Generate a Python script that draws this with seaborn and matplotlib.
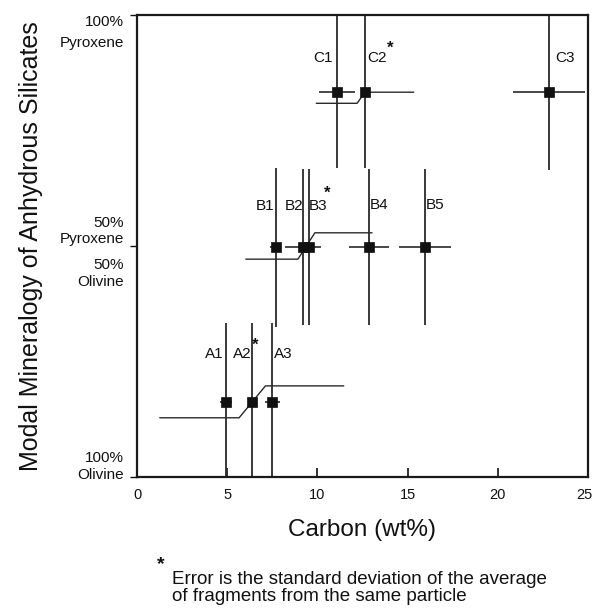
import numpy as np
import pandas as pd
import matplotlib
matplotlib.use("Agg")
import matplotlib.pyplot as plt
import matplotlib.transforms as mtransforms
import seaborn as sns

# ---- data ----
names = ["A1", "A2", "A3", "B1", "B2", "B3", "B4", "B5", "C1", "C2", "C3"]
carbon = [4.94, 6.36, 7.51, 7.68, 9.18, 9.53, 12.86, 15.97, 11.07, 12.64, 22.82]
pyroxene = [16.3, 16.3, 16.3, 49.7, 49.7, 49.7, 49.7, 49.7, 83.2, 83.2, 83.2]
carbon_err = [0.33, 5.1, 0.4, 0.3, 1.0, 3.5, 1.1, 1.43, 1.0, 2.7, 2.0]
pyroxene_err = [16.9, 16.9, 16.9, 17.2, 16.8, 16.8, 16.8, 16.8, 16.4, 16.4, 16.8]
starred = ["A2", "B3", "C2"]
xticks = [0, 5, 10, 15, 20, 25]
yticks = [0, 50, 100]
ytick_labels = ["100%\nOlivine", "50%\nPyroxene\n50%\nOlivine", "100%\nPyroxene"]
footnote = "Error is the standard deviation of the average\nof fragments from the same particle"

df = pd.DataFrame({"name": names, "carbon": carbon, "pyroxene": pyroxene,
                   "cerr": carbon_err, "perr": pyroxene_err})

# ---- style ----
sns.set_style("ticks")
plt.rcParams["font.family"] = ["Liberation Sans", "DejaVu Sans"]

fig = plt.figure(figsize=(5.94, 6.09), dpi=100)
ax = fig.add_axes([137 / 594, 1 - 477 / 609, (588 - 137) / 594, (477 - 14.5) / 609])

line_col = "#2a2a2a"
txt_col = "#111111"

# vertical error bars (all)
ax.errorbar(df["carbon"], df["pyroxene"], yerr=df["perr"], fmt="none",
            ecolor=line_col, elinewidth=1.3, capsize=0, zorder=2)

# horizontal error bars for non-starred points
plain = df[~df["name"].isin(starred)]
ax.errorbar(plain["carbon"], plain["pyroxene"], xerr=plain["cerr"], fmt="none",
            ecolor=line_col, elinewidth=1.2, capsize=0, zorder=2)

# kinked horizontal error bars for starred points (offset to avoid overlap)
kink = {  # (left dy, right dy, left kink dx, right kink dx)
    "A2": (-3.5, 3.4, 0.7, 0.76),
    "B3": (-2.6, 3.1, 0.61, 0.33),
    "C2": (-2.4, 0.0, 0.44, 0.0),
}
for _, r in df[df["name"].isin(starred)].iterrows():
    ldy, rdy, lk, rk = kink[r["name"]]
    x0, y0, e = r["carbon"], r["pyroxene"], r["cerr"]
    xs = [x0 - e, x0 - lk, x0 + rk, x0 + e]
    ys = [y0 + ldy, y0 + ldy, y0 + rdy, y0 + rdy]
    ax.plot(xs, ys, color=line_col, lw=1.0, zorder=2)

# markers
sns.scatterplot(data=df, x="carbon", y="pyroxene", marker="s", s=60,
                color="#111111", edgecolor="#111111", linewidth=0.5,
                ax=ax, zorder=3, legend=False)

# point labels (offsets in pixels)
label_off = {
    "A1": (-12, 48), "A2": (-9.3, 48), "A3": (10.6, 48),
    "B1": (-10.7, 41), "B2": (-8.7, 41), "B3": (8.7, 41), "B4": (10, 42), "B5": (10, 42),
    "C1": (-13.7, 34), "C2": (11.7, 34), "C3": (16.7, 34),
}
star_off = {"A2": (3.7, 56), "B3": (18, 54), "C2": (25, 44)}
for n, x, y in zip(names, carbon, pyroxene):
    dx, dy = label_off[n]
    ax.annotate(n, (x, y), xytext=(dx * 0.72, dy * 0.72), textcoords="offset points",
                ha="center", va="center", fontsize=11, color=txt_col)
    if n in star_off:
        sx, sy = star_off[n]
        ax.annotate("*", (x, y), xytext=(sx * 0.72, sy * 0.72), textcoords="offset points",
                    ha="center", va="center", fontsize=12, fontweight="bold", color=txt_col)

# axes
ax.set_xlim(0, 25)
ax.set_ylim(0, 100)
ax.set_xticks(xticks)
ax.set_xticklabels([str(t) for t in xticks], fontsize=10.5)
ax.set_yticks(yticks)
ax.set_yticklabels([""] * len(yticks))
ax.tick_params(axis="x", direction="in", length=6.5, width=1.2, pad=8, colors=txt_col)
ax.tick_params(axis="y", direction="out", length=5, width=1.0, pad=8, colors=txt_col)
ax.tick_params(axis="x", top=False)
ax.tick_params(axis="y", right=False)
# nudge the last x tick label so it stays inside the canvas
last = ax.get_xticklabels()[-1]
last.set_transform(last.get_transform() +
                   mtransforms.ScaledTranslation(-4 / 100, 0, fig.dpi_scale_trans))

# y tick labels drawn as text at the tick positions (pixel offsets)
ylab_x = (124 - 137) / 451
ylab_parts = [  # (tick value, text, va, y-offset px, linespacing)
    (yticks[0], ytick_labels[0], "bottom", -5, 1.25),
    (yticks[1], "\n".join(ytick_labels[1].split("\n")[:2]), "bottom", 0, 1.15),
    (yticks[1], "\n".join(ytick_labels[1].split("\n")[2:]), "top", -12, 1.3),
    (yticks[2], ytick_labels[2], "top", 0, 1.65),
]
ytrans = ax.get_yaxis_transform()
for val, txt, va, off, ls in ylab_parts:
    tr = ytrans + mtransforms.ScaledTranslation(0, off / 100, fig.dpi_scale_trans)
    ax.text(ylab_x, val, txt, transform=tr, ha="right", va=va, multialignment="right",
            fontsize=11, linespacing=ls, color=txt_col, clip_on=False)

for s in ax.spines.values():
    s.set_visible(True)
    s.set_linewidth(1.6)
    s.set_color("#1a1a1a")

ax.set_xlabel("Carbon (wt%)", fontsize=17.5, labelpad=12, color=txt_col)
ax.set_ylabel("Modal Mineralogy of Anhydrous Silicates", fontsize=18, labelpad=0,
              color=txt_col)
ax.yaxis.set_label_coords((43 - 137) / 451, 0.5)

# footnote
fig.text(160.7 / 594, 1 - 565 / 609, "*", ha="center", va="center", fontsize=14,
         fontweight="bold", color=txt_col)
fig.text(171.7 / 594, 1 - 571 / 609, footnote, ha="left", va="top", fontsize=13.5,
         linespacing=1.0, color=txt_col)

fig.savefig("out.png", dpi=100)
